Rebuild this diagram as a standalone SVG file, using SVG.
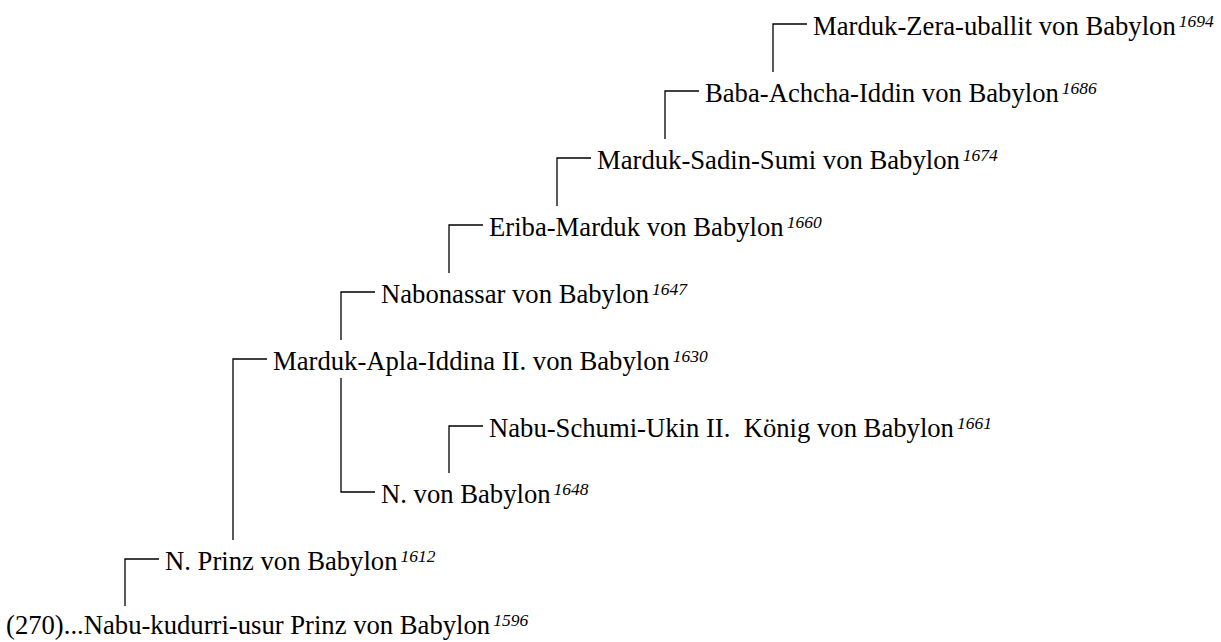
<svg xmlns="http://www.w3.org/2000/svg" width="1221" height="642" viewBox="0 0 1221 642">
<style>
.t{font-family:"Liberation Serif","Times New Roman",serif;font-size:26.67px;fill:#000;white-space:pre}
.s{font-style:italic;font-size:17.5px}
.c{fill:none;stroke:#000;stroke-width:1.3}
</style>
<rect width="1221" height="642" fill="#fff"/>
<g id="connectors">
<path class="c" d="M773 72V24H807"/>
<path class="c" d="M665 139V91H699"/>
<path class="c" d="M557 206V158H591"/>
<path class="c" d="M449 273V225H483"/>
<path class="c" d="M341 340V292H375"/>
<path class="c" d="M233 540V359H267"/>
<path class="c" d="M449 473V426H483"/>
<path class="c" d="M341 378V492H375"/>
<path class="c" d="M125 606V559H159"/>
</g>
<g id="n1"><text class="t" x="813" y="35">Marduk-Zera-uballit von Babylon<tspan class="s" dx="3" dy="-8">1694</tspan></text></g>
<g id="n2"><text class="t" x="705" y="102">Baba-Achcha-Iddin von Babylon<tspan class="s" dx="3" dy="-8">1686</tspan></text></g>
<g id="n3"><text class="t" x="597" y="169">Marduk-Sadin-Sumi von Babylon<tspan class="s" dx="3" dy="-8">1674</tspan></text></g>
<g id="n4"><text class="t" x="489" y="236">Eriba-Marduk von Babylon<tspan class="s" dx="3" dy="-8">1660</tspan></text></g>
<g id="n5"><text class="t" x="381" y="303">Nabonassar von Babylon<tspan class="s" dx="3" dy="-8">1647</tspan></text></g>
<g id="n6"><text class="t" x="273" y="370">Marduk-Apla-Iddina II. von Babylon<tspan class="s" dx="3" dy="-8">1630</tspan></text></g>
<g id="n7"><text class="t" x="489" y="437">Nabu-Schumi-Ukin II.  König von Babylon<tspan class="s" dx="3" dy="-8">1661</tspan></text></g>
<g id="n8"><text class="t" x="381" y="503">N. von Babylon<tspan class="s" dx="3" dy="-8">1648</tspan></text></g>
<g id="n9"><text class="t" x="165" y="570">N. Prinz von Babylon<tspan class="s" dx="3" dy="-8">1612</tspan></text></g>
<g id="n10"><text class="t" x="6" y="634">(270)...Nabu-kudurri-usur Prinz von Babylon<tspan class="s" dx="3" dy="-8">1596</tspan></text></g>
</svg>
